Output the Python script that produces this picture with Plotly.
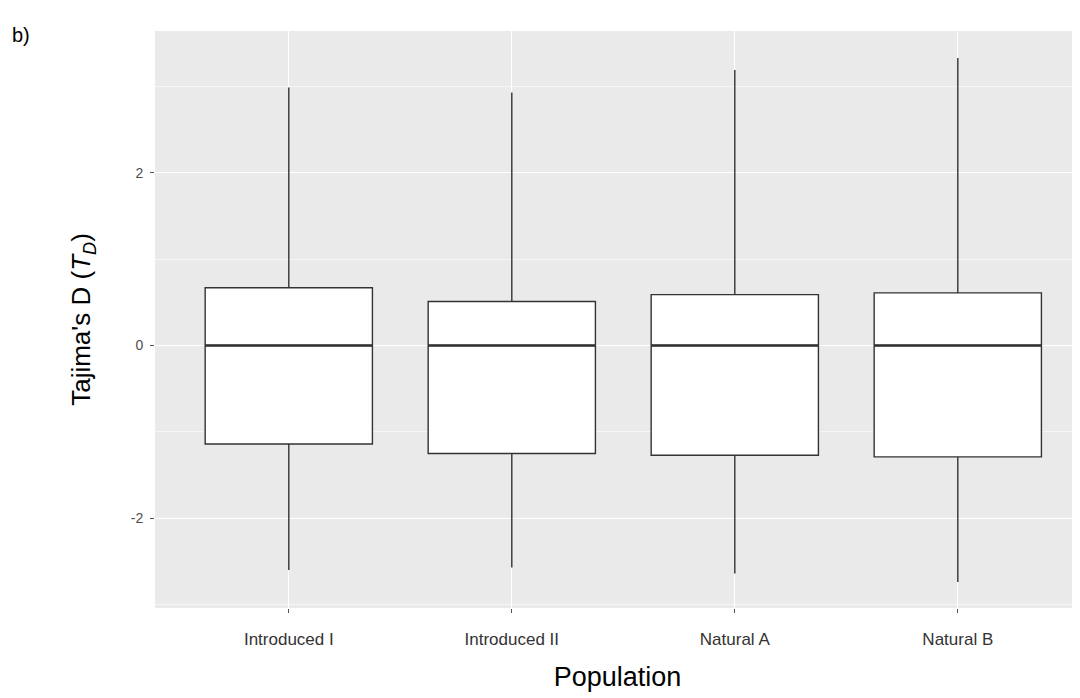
import plotly.graph_objects as go

# Data
populations = ["Introduced I", "Introduced II", "Natural A", "Natural B"]
lower_whisker = [-2.60, -2.57, -2.64, -2.74]
q1_values = [-1.14, -1.25, -1.27, -1.29]
medians = [0.0, 0.0, 0.0, 0.0]
q3_values = [0.67, 0.51, 0.59, 0.61]
upper_whisker = [2.99, 2.93, 3.19, 3.33]
y_tick_vals = [-2, 0, 2]

positions = list(range(len(populations)))
box_half = 0.375
line_col = "#333333"

fig = go.Figure()
fig.add_trace(go.Box(
    x=positions,
    q1=q1_values,
    median=medians,
    q3=q3_values,
    lowerfence=lower_whisker,
    upperfence=upper_whisker,
    fillcolor="white",
    line=dict(color=line_col, width=1.4),
    whiskerwidth=0,
    width=2 * box_half,
    boxpoints=False,
    showlegend=False,
    hoverinfo="skip",
))

# thicker median lines (ggplot style)
for p, m in zip(positions, medians):
    fig.add_trace(go.Scatter(
        x=[p - box_half, p + box_half], y=[m, m], mode="lines",
        line=dict(color=line_col, width=2.6), showlegend=False, hoverinfo="skip",
    ))

fig.update_layout(
    width=1072, height=690,
    margin=dict(l=147, r=0, t=23, b=90),
    paper_bgcolor="white",
    plot_bgcolor="#EBEAEA",
    font=dict(family="Liberation Sans, Arial, sans-serif", color="#4d4d4d"),
    xaxis=dict(
        automargin=False,
        range=[-0.6, 3.548],
        tickmode="array", tickvals=positions, ticktext=populations,
        tickfont=dict(size=17, color="#333333"),
        showgrid=True, gridcolor="white", gridwidth=1.3,
        zeroline=False, showline=False,
        ticks="outside", ticklen=4, tickcolor="#555555", tickwidth=1,
        ticklabelstandoff=12,
        title=dict(text="Population", font=dict(size=27, color="black"), standoff=18),
    ),
    yaxis=dict(
        automargin=False,
        range=[-3.04, 3.643],
        tickmode="array", tickvals=y_tick_vals, ticktext=[str(v) for v in y_tick_vals],
        tickfont=dict(size=14, color="#4d4d4d"),
        showgrid=True, gridcolor="white", gridwidth=1.3,
        minor=dict(tickmode="array", tickvals=[-3, -1, 1, 3], showgrid=True,
                   gridcolor="#F7F6F6", gridwidth=0.9, ticks=""),
        zeroline=False, showline=False,
        ticks="outside", ticklen=4, tickcolor="#555555", tickwidth=1,
        ticklabelstandoff=4,
        title=dict(text="Tajima's D (<i>T<sub>D</sub></i>)",
                   font=dict(size=26, color="black"), standoff=32),
    ),
    annotations=[dict(
        text="b)", xref="paper", yref="paper", x=-147/925, y=1,
        xanchor="left", yanchor="bottom", showarrow=False,
        font=dict(size=20, color="black"), xshift=2, yshift=-17,
    )],
)

fig.write_html("out.html")
